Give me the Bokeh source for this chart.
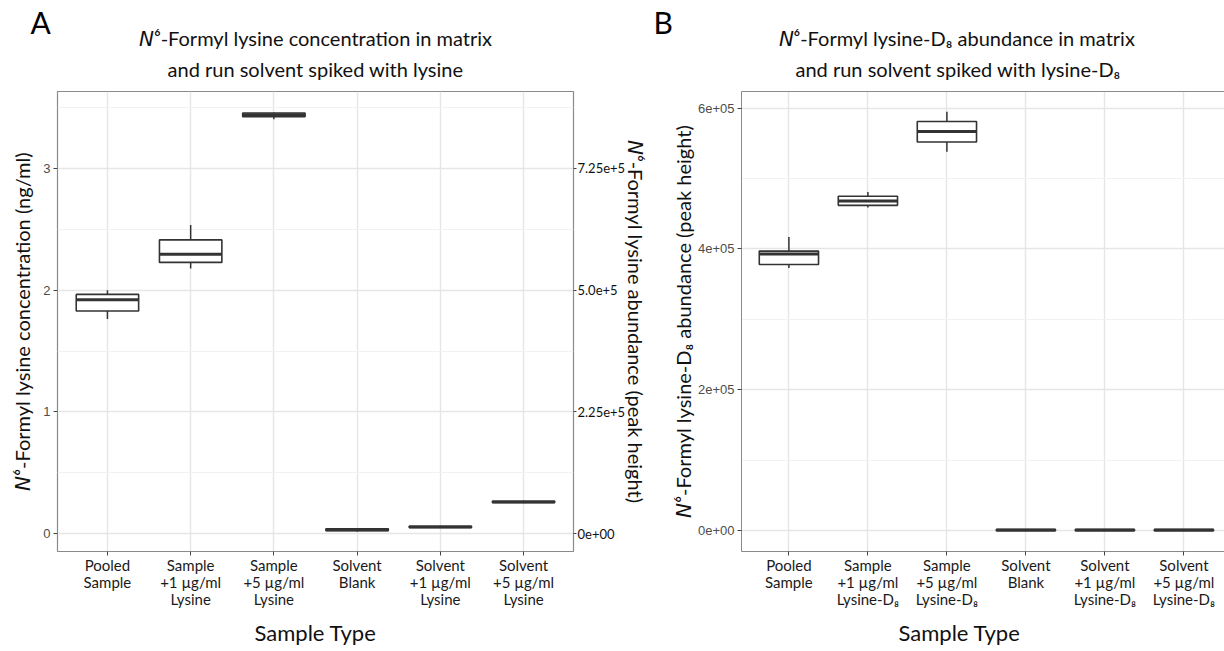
from bokeh.plotting import figure
from bokeh.models import Range1d, FixedTicker, LinearAxis, Title, ColumnDataSource
from bokeh.transform import dodge
from bokeh.layouts import row
from bokeh.embed import file_html
from bokeh.resources import INLINE

# ---------------- data ----------------
cats_a = ["Pooled\nSample", "Sample\n+1 µg/ml\nLysine", "Sample\n+5 µg/ml\nLysine",
          "Solvent\nBlank", "Solvent\n+1 µg/ml\nLysine", "Solvent\n+5 µg/ml\nLysine"]
a_min = [1.764, 2.177, 3.405, 0.018, 0.046, 0.250]
a_q1 = [1.829, 2.228, 3.425, 0.024, 0.050, 0.255]
a_med = [1.921, 2.296, 3.440, 0.031, 0.055, 0.260]
a_q3 = [1.965, 2.413, 3.455, 0.040, 0.061, 0.266]
a_max = [2.000, 2.535, 3.460, 0.045, 0.065, 0.270]
a_left_ticks = [0, 1, 2, 3]
a_right_labels = ["0e+00", "2.25e+5", "5.0e+5", "7.25e+5"]

cats_b = ["Pooled\nSample", "Sample\n+1 µg/ml\nLysine-D₈", "Sample\n+5 µg/ml\nLysine-D₈",
          "Solvent\nBlank", "Solvent\n+1 µg/ml\nLysine-D₈", "Solvent\n+5 µg/ml\nLysine-D₈"]
b_min = [373000, 459000, 538000, 0, 0, 0]
b_q1 = [378000, 462000, 552000, 0, 0, 0]
b_med = [393000, 468000, 567000, 800, 800, 800]
b_q3 = [397000, 475000, 581000, 1600, 1600, 1600]
b_max = [417000, 481000, 595000, 1600, 1600, 1600]
b_ticks = [0, 200000, 400000, 600000]
b_tick_labels = ["0e+00", "2e+05", "4e+05", "6e+05"]

title_a = ["𝘕⁶-Formyl lysine concentration in matrix", "and run solvent spiked with lysine"]
title_b = ["𝘕⁶-Formyl lysine-D₈ abundance in matrix", "and run solvent spiked with lysine-D₈"]
ylab_a = "𝘕⁶-Formyl lysine concentration (ng/ml)"
ylab_a2 = "𝘕⁶-Formyl lysine abundance (peak height)"
ylab_b = "𝘕⁶-Formyl lysine-D₈ abundance (peak height)"
xlab = "Sample Type"

H = 651
WA = 652
WB = 1224 - WA
CAL = "Lato, 'DejaVu Sans', 'DejaVu Serif'"
ARI = "Liberation Sans"
BORDER = "#8a8a8a"
GRID = "#e6e6e6"
GRID_MINOR = "#f2f2f2"
BOX = "#333333"
TXT = "#111111"


def make_panel(width, cats, mn, q1, md, q3, mx, xr, yr, frame, yticks, yminor, ylabels,
               ylabel, ylabel_standoff):
    fl, ft, fr, fb = frame
    p = figure(width=width, height=H, output_backend="svg", toolbar_location=None,
               x_range=Range1d(*xr), y_range=Range1d(*yr),
               min_border_left=fl, min_border_top=ft, min_border_right=width - fr,
               min_border_bottom=H - fb, background_fill_color="white",
               border_fill_color="white")
    xs = list(range(1, len(cats) + 1))
    src = ColumnDataSource(dict(x=xs, mn=mn, q1=q1, md=md, q3=q3, mx=mx))
    p.segment(x0="x", x1="x", y0="q3", y1="mx", source=src, line_color=BOX, line_width=1.5)
    p.segment(x0="x", x1="x", y0="mn", y1="q1", source=src, line_color=BOX, line_width=1.5)
    p.vbar(x="x", width=0.75, bottom="q1", top="q3", source=src, fill_color="white",
           line_color=BOX, line_width=1.6)
    p.segment(x0=dodge("x", -0.375), x1=dodge("x", 0.375), y0="md", y1="md", source=src,
              line_color=BOX, line_width=3)

    p.xaxis.ticker = FixedTicker(ticks=xs)
    p.xaxis.major_label_overrides = {i: c for i, c in zip(xs, cats)}
    p.xaxis.major_label_text_font = CAL
    p.xaxis.major_label_text_font_size = "15px"
    p.xaxis.major_label_text_line_height = 0.95
    p.xaxis.major_label_text_color = "#1a1a1a"
    p.xaxis.major_label_standoff = 0
    p.yaxis.ticker = FixedTicker(ticks=yticks, minor_ticks=yminor)
    p.yaxis.major_label_overrides = {t: l for t, l in zip(yticks, ylabels)}
    p.yaxis.major_label_text_font = ARI
    p.yaxis.major_label_text_font_size = "13px"
    p.yaxis.major_label_text_color = "#4d4d4d"
    p.yaxis.major_label_standoff = 3
    p.yaxis.axis_label = ylabel
    p.yaxis.axis_label_text_font = CAL
    p.yaxis.axis_label_text_font_size = "20px"
    p.yaxis.axis_label_text_font_style = "normal"
    p.yaxis.axis_label_text_color = TXT
    p.yaxis.axis_label_standoff = ylabel_standoff
    for ax in (p.xaxis[0], p.yaxis[0]):
        ax.axis_line_color = None
        ax.major_tick_in = 0
        ax.major_tick_out = 4
        ax.major_tick_line_color = "#444444"
        ax.minor_tick_line_color = None
    p.xgrid.grid_line_color = GRID
    p.xgrid.grid_line_width = 1.4
    p.ygrid.grid_line_color = GRID
    p.ygrid.grid_line_width = 1.4
    p.ygrid.minor_grid_line_color = GRID_MINOR
    p.ygrid.minor_grid_line_width = 1.0
    p.outline_line_color = BORDER
    p.outline_line_width = 1.2
    return p


def add_titles(p, letter, titles, letter_offset, title_aligns, title_offsets,
               xlab_align, xlab_offset):
    p.add_layout(Title(text=xlab, align=xlab_align, offset=xlab_offset, text_font=CAL,
                       text_font_size="22px", text_font_style="normal", text_color=TXT,
                       standoff=12), "below")
    p.add_layout(Title(text=titles[1], align=title_aligns[1], offset=title_offsets[1],
                       text_font=CAL, text_font_size="20px", text_font_style="normal",
                       text_color=TXT, text_line_height=1.0, standoff=21), "above")
    p.add_layout(Title(text=titles[0], align=title_aligns[0], offset=title_offsets[0],
                       text_font=CAL, text_font_size="20px", text_font_style="normal",
                       text_color=TXT, text_line_height=1.0, standoff=-10), "above")
    p.add_layout(Title(text=letter, align="left", offset=letter_offset, text_font=CAL,
                       text_font_size="30px", text_font_style="normal",
                       text_color="#000000", text_line_height=1.0, standoff=-22), "above")


# ---------------- panel A ----------------
frameA = (57, 90, 573, 554)
xrA = (0.4, 6.6)
yrA = (-0.147, 3.632)
pA = make_panel(WA, cats_a, a_min, a_q1, a_med, a_q3, a_max, xrA, yrA, frameA,
                a_left_ticks, [0.5, 1.5, 2.5, 3.5], [str(t) for t in a_left_ticks],
                ylab_a, 6)
right = LinearAxis(ticker=FixedTicker(ticks=a_left_ticks),
                   major_label_overrides={t: l for t, l in zip(a_left_ticks, a_right_labels)},
                   major_label_text_font=CAL, major_label_text_font_size="13px",
                   major_label_text_color=TXT, axis_line_color=None,
                   major_tick_in=0, major_tick_out=3, major_tick_line_color="#444444",
                   minor_tick_line_color=None, major_label_standoff=1,
                   axis_label=ylab_a2, axis_label_text_font=CAL,
                   axis_label_text_font_size="20px", axis_label_text_font_style="normal",
                   axis_label_text_color=TXT, axis_label_standoff=-4)
pA.add_layout(right, "right")
add_titles(pA, "A", title_a, -27, ("center", "center"), (0, 0), "center", 0)

# ---------------- panel B ----------------
frameB = (741 - WA, 91, WB, 556)
xrB = (0.4, 0.4 + (WB - (741 - WA)) / 79.0)
yrB = (-29700, 623700)
pB = make_panel(WB, cats_b, b_min, b_q1, b_med, b_q3, b_max, xrB, yrB, frameB,
                b_ticks, [100000, 300000, 500000], b_tick_labels, ylab_b, 0)
pB.outline_line_color = None
pB.xaxis.axis_line_color = BORDER
pB.yaxis.axis_line_color = BORDER
top = LinearAxis(ticker=FixedTicker(ticks=[]), axis_line_color=BORDER,
                 major_tick_line_color=None, minor_tick_line_color=None,
                 major_label_text_font_size="0px")
pB.add_layout(top, "above")
add_titles(pB, "B", title_b, -(741 - WA) + 1, ("left", "left"), (37, 54), "left", 157)

layout = row(pA, pB)
open("out.html", "w").write(file_html(layout, INLINE))
